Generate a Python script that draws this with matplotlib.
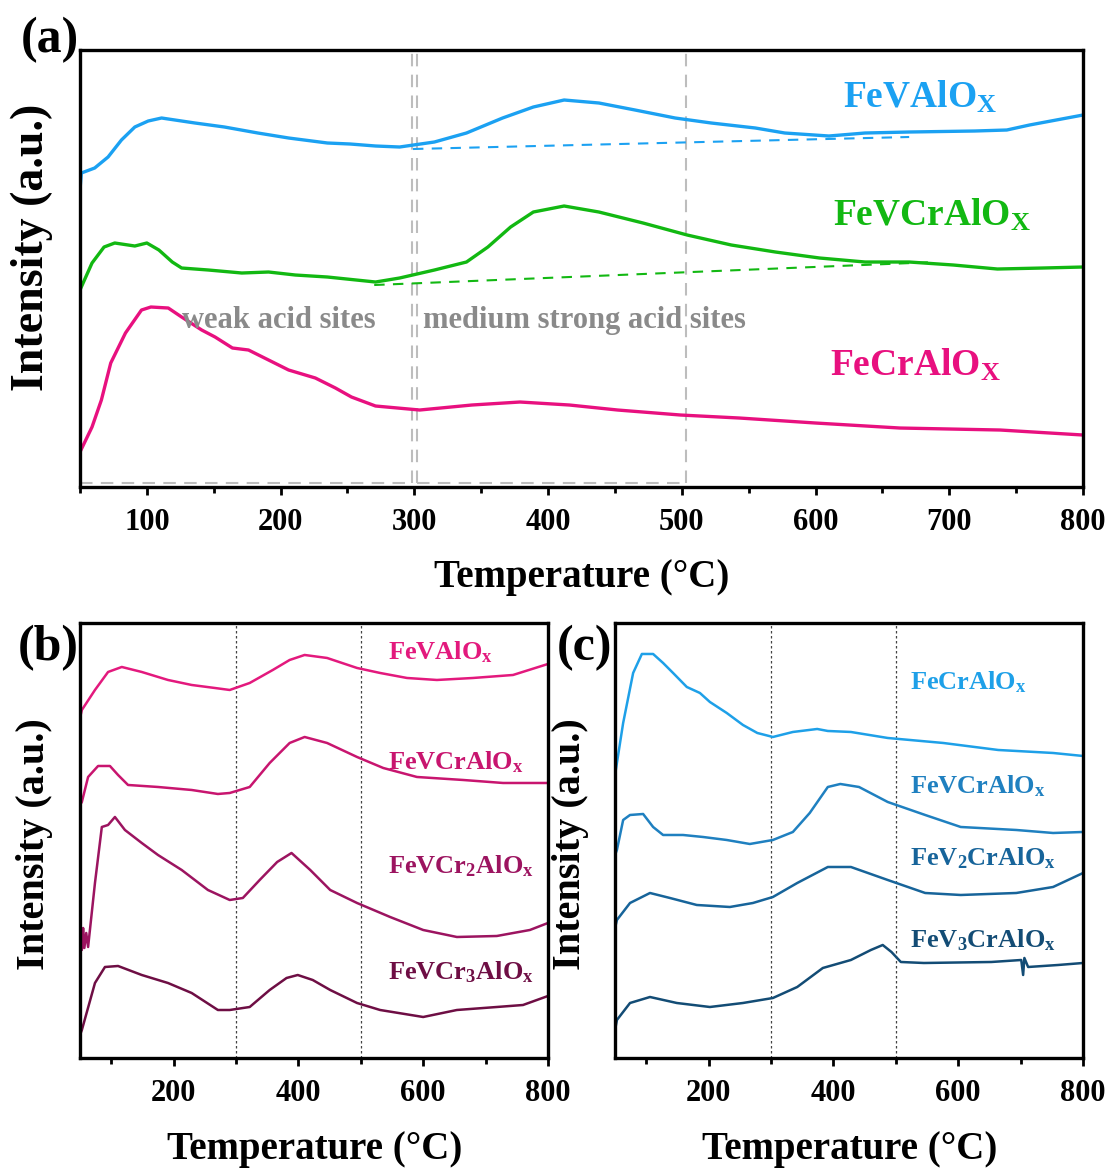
import matplotlib
matplotlib.use("Agg")
import matplotlib.pyplot as plt
from matplotlib.ticker import MultipleLocator

plt.rcParams['font.family'] = ['Liberation Serif', 'DejaVu Serif']
plt.rcParams['font.weight'] = 'bold'
plt.rcParams['mathtext.fontset'] = 'custom'
plt.rcParams['mathtext.rm'] = 'Liberation Serif:bold'
plt.rcParams['mathtext.it'] = 'Liberation Serif:bold'
plt.rcParams['mathtext.bf'] = 'Liberation Serif:bold'

# ---- panel (a) data: temperature (C) / intensity (a.u.) ----
a_vAl_T = [50, 51, 61, 71, 81, 91, 101, 111, 121, 136, 158, 183, 206, 235, 252, 271, 289, 315,
           339, 366, 389, 412, 438, 465, 495, 522, 555, 577, 610, 637, 670, 719, 743, 760, 788, 800]
a_vAl_I = [297, 314, 319, 330, 347, 360, 366, 369, 367, 364, 360, 354, 349, 344, 343, 341, 340, 345,
           354, 369, 380, 387, 384, 377, 369, 364, 359, 354, 351, 354, 355, 356, 357, 362, 369, 372]
a_vcr_T = [50, 59, 68, 76, 91, 100, 109, 119, 126, 146, 171, 191, 211, 235, 271, 289, 315, 339,
           355, 372, 389, 412, 438, 471, 504, 537, 570, 603, 637, 670, 703, 736, 770, 800]
a_vcr_I = [197, 224, 240, 244, 241, 244, 237, 225, 219, 217, 214, 215, 212, 210, 205, 209, 217, 225,
           240, 260, 275, 281, 275, 264, 252, 242, 235, 229, 225, 225, 222, 218, 219, 220]
a_cr_T = [50, 59, 66, 73, 84, 96, 103, 116, 126, 141, 151, 164, 176, 191, 206, 226, 241, 253,
          271, 304, 343, 379, 416, 452, 499, 543, 600, 663, 738, 800]
a_cr_I = [35, 60, 87, 124, 154, 177, 180, 179, 170, 157, 150, 139, 137, 127, 117, 109, 99, 90,
          81, 77, 82, 85, 82, 77, 72, 69, 64, 59, 57, 52]
base_vAl_T = [299, 670]
base_vAl_I = [338, 350]
base_vcr_T = [270, 690]
base_vcr_I = [202, 225]
region_T = [298, 302, 503]

# ---- panel (b) data ----
b1_T = [50, 53, 74, 95, 117, 149, 191, 229, 266, 290, 322, 359, 386, 410, 446, 494, 531, 574,
        622, 680, 744, 800]
b1_I = [340, 348, 368, 386, 391, 386, 378, 373, 370, 368, 375, 388, 398, 403, 400, 390, 385, 380,
        378, 380, 383, 394]
b2_T = [50, 53, 63, 79, 98, 111, 127, 175, 229, 271, 290, 322, 354, 386, 410, 446, 494, 536,
        590, 664, 728, 800]
b2_I = [253, 256, 281, 292, 292, 283, 273, 271, 268, 264, 265, 271, 295, 315, 321, 315, 301, 290,
        281, 278, 275, 275]
b3_T = [50, 53, 55, 57, 60, 63, 74, 85, 95, 106, 122, 149, 175, 213, 255, 290, 311, 338, 366,
        389, 419, 451, 494, 547, 600, 654, 718, 771, 800]
b3_I = [123, 108, 130, 110, 125, 111, 175, 231, 233, 241, 228, 215, 203, 188, 168, 158, 160, 178, 196,
        205, 188, 168, 155, 141, 128, 121, 122, 128, 135]
b4_T = [50, 53, 74, 90, 111, 149, 191, 229, 271, 290, 322, 354, 381, 399, 423, 451, 494, 531,
        600, 654, 718, 760, 800]
b4_I = [23, 28, 75, 91, 92, 83, 75, 65, 48, 48, 51, 68, 80, 83, 78, 68, 55, 48,
        41, 48, 51, 53, 62]

# ---- panel (c) data ----
c1_T = [50, 53, 63, 79, 93, 111, 127, 143, 165, 186, 202, 229, 255, 278, 303, 335, 374, 391,
        428, 487, 576, 664, 752, 800]
c1_I = [283, 295, 335, 385, 404, 404, 395, 385, 371, 365, 356, 345, 333, 325, 321, 326, 329, 327,
        326, 320, 315, 308, 305, 302]
c2_T = [50, 53, 63, 74, 95, 111, 127, 159, 191, 229, 266, 303, 335, 362, 391, 411, 441, 487,
        547, 604, 693, 752, 800]
c2_I = [203, 208, 238, 243, 244, 231, 223, 223, 221, 218, 214, 218, 226, 245, 271, 274, 271, 256,
        243, 231, 228, 225, 226]
c3_T = [50, 53, 74, 106, 138, 181, 234, 271, 303, 342, 391, 428, 487, 547, 604, 693, 752, 800]
c3_I = [130, 138, 155, 165, 160, 153, 151, 155, 161, 175, 191, 191, 178, 165, 163, 165, 171, 185]
c4_T = [50, 53, 74, 106, 149, 202, 255, 303, 342, 383, 428, 460, 479, 493, 508, 545, 653, 701,
        704, 706, 712, 760, 800]
c4_I = [28, 38, 55, 61, 55, 51, 55, 60, 71, 90, 98, 108, 113, 106, 96, 95, 96, 98,
        83, 100, 91, 93, 95]

guide_T = [300, 500]

fig = plt.figure(figsize=(11.14, 11.71), dpi=100)
ax_a = fig.add_axes([0.0718, 0.5841, 0.9004, 0.3732])
ax_b = fig.add_axes([0.0718, 0.0965, 0.4201, 0.3715])
ax_c = fig.add_axes([0.5521, 0.0965, 0.4201, 0.3715])

for ax in (ax_a, ax_b, ax_c):
    ax.set_xlim(50, 800)
    ax.set_yticks([])
    for s in ax.spines.values():
        s.set_linewidth(2.4)
    ax.tick_params(axis='x', which='major', direction='out', length=6, width=2, labelsize=22, pad=9)
    ax.tick_params(axis='x', which='minor', direction='out', length=4, width=2)

# ---- (a) ----
ax_a.set_ylim(0, 437)
ax_a.xaxis.set_major_locator(MultipleLocator(100))
ax_a.xaxis.set_minor_locator(MultipleLocator(50))

gray = '#BDBDBD'
for t in region_T:
    ax_a.axvline(t, ymin=0.01, ymax=1, color=gray, lw=1.5, ls=(0, (6, 4)))
ax_a.plot([50, region_T[0]], [4, 4], color=gray, lw=1.5, ls=(0, (6, 4)))
ax_a.plot([region_T[1], region_T[2]], [4, 4], color=gray, lw=1.5, ls=(0, (6, 4)))

ax_a.plot(a_vAl_T, a_vAl_I, color='#1BA1F2', lw=2.4)
ax_a.plot(a_vcr_T, a_vcr_I, color='#12B812', lw=2.4)
ax_a.plot(a_cr_T, a_cr_I, color='#E8107F', lw=2.4)
ax_a.plot(base_vAl_T, base_vAl_I, color='#1BA1F2', lw=1.5, ls=(0, (5, 4)))
ax_a.plot(base_vcr_T, base_vcr_I, color='#12B812', lw=1.5, ls=(0, (5, 4)))

ax_a.text(0.761, 0.892, 'FeVAlO$_\\mathrm{X}$', color='#1BA1F2', fontsize=27,
          transform=ax_a.transAxes, va='center')
ax_a.text(0.751, 0.622, 'FeVCrAlO$_\\mathrm{X}$', color='#12B812', fontsize=27,
          transform=ax_a.transAxes, va='center')
ax_a.text(0.748, 0.279, 'FeCrAlO$_\\mathrm{X}$', color='#E8107F', fontsize=27,
          transform=ax_a.transAxes, va='center')
ax_a.text(0.102, 0.38, 'weak acid sites', color='#8A8A8A', fontsize=22,
          transform=ax_a.transAxes, va='center')
ax_a.text(0.342, 0.38, 'medium strong acid sites', color='#8A8A8A', fontsize=22,
          transform=ax_a.transAxes, va='center')

# ---- (b) ----
ax_b.set_ylim(0, 435)
ax_b.xaxis.set_major_locator(MultipleLocator(200))
ax_b.xaxis.set_minor_locator(MultipleLocator(100))
for t in guide_T:
    ax_b.axvline(t, color='#444444', lw=0.9, ls=(0, (2, 2)))
b_cols = ['#E3197D', '#C8156F', '#9C1460', '#6E0E44']
ax_b.plot(b1_T, b1_I, color=b_cols[0], lw=1.8)
ax_b.plot(b2_T, b2_I, color=b_cols[1], lw=1.8)
ax_b.plot(b3_T, b3_I, color=b_cols[2], lw=1.8)
ax_b.plot(b4_T, b4_I, color=b_cols[3], lw=1.8)
b_names = ['FeVAlO$_\\mathrm{x}$', 'FeVCrAlO$_\\mathrm{x}$', 'FeVCr$_\\mathrm{2}$AlO$_\\mathrm{x}$',
           'FeVCr$_\\mathrm{3}$AlO$_\\mathrm{x}$']
for name, col, yy in zip(b_names, b_cols, [0.933, 0.680, 0.441, 0.198]):
    ax_b.text(0.658, yy, name, color=col, fontsize=19, transform=ax_b.transAxes, va='center')

# ---- (c) ----
ax_c.set_ylim(0, 435)
ax_c.xaxis.set_major_locator(MultipleLocator(200))
ax_c.xaxis.set_minor_locator(MultipleLocator(100))
for t in guide_T:
    ax_c.axvline(t, color='#444444', lw=0.9, ls=(0, (2, 2)))
c_cols = ['#1EA0E8', '#1F80C0', '#17649A', '#134C75']
ax_c.plot(c1_T, c1_I, color=c_cols[0], lw=1.8)
ax_c.plot(c2_T, c2_I, color=c_cols[1], lw=1.8)
ax_c.plot(c3_T, c3_I, color=c_cols[2], lw=1.8)
ax_c.plot(c4_T, c4_I, color=c_cols[3], lw=1.8)
c_names = ['FeCrAlO$_\\mathrm{x}$', 'FeVCrAlO$_\\mathrm{x}$', 'FeV$_\\mathrm{2}$CrAlO$_\\mathrm{x}$',
           'FeV$_\\mathrm{3}$CrAlO$_\\mathrm{x}$']
for name, col, yy in zip(c_names, c_cols, [0.864, 0.625, 0.460, 0.271]):
    ax_c.text(0.630, yy, name, color=col, fontsize=19, transform=ax_c.transAxes, va='center')

# ---- axis titles and panel letters ----
fig.text(0.0287, 0.789, 'Intensity (a.u.)', rotation=90, ha='center', va='center', fontsize=33)
fig.text(0.0314, 0.279, 'Intensity (a.u.)', rotation=90, ha='center', va='center', fontsize=29)
fig.text(0.5117, 0.279, 'Intensity (a.u.)', rotation=90, ha='center', va='center', fontsize=29)
fig.text(0.5224, 0.507, 'Temperature (°C)', ha='center', va='center', fontsize=28)
fig.text(0.2828, 0.018, 'Temperature (°C)', ha='center', va='center', fontsize=28)
fig.text(0.763, 0.018, 'Temperature (°C)', ha='center', va='center', fontsize=28)
fig.text(0.045, 0.966, '(a)', ha='center', va='center', fontsize=36)
fig.text(0.043, 0.447, '(b)', ha='center', va='center', fontsize=36)
fig.text(0.525, 0.447, '(c)', ha='center', va='center', fontsize=36)

fig.savefig('out.png', dpi=100)
